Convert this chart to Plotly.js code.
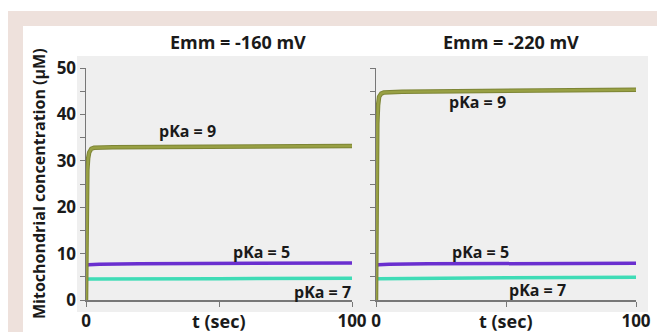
<!DOCTYPE html>
<html>
<head>
<meta charset="utf-8">
<script src="https://cdn.plot.ly/plotly-3.0.1.min.js"></script>
<style>html,body{margin:0;padding:0;background:#fff;}#chart{width:657px;height:332px;}</style>
</head>
<body>
<div id="chart"></div>
<script>
// ---- data ----
const panelTitles = ["Emm = -160 mV", "Emm = -220 mV"];
const yTickVals = [0, 5, 10, 15, 20, 25, 30, 35, 40, 45, 50];
const yTickText = ["0", "", "10", "", "20", "", "30", "", "40", "", "50"];
const xTickVals = [0, 50, 100];
const xTickText = ["0", "", "100"];

const tLeft9  = [0, 0.2, 0.5, 0.8, 1.2, 2, 3, 10, 30, 50, 70, 100];
const left9   = [0, 18, 28, 30.5, 31.8, 32.6, 32.8, 32.9, 33.0, 33.1, 33.2, 33.2];
const tLeft5  = [0, 0.1, 1, 5, 20, 50, 100];
const left5   = [0, 7.4, 7.6, 7.7, 7.8, 7.9, 8.0];
const tLeft7  = [0, 0.1, 1, 20, 50, 100];
const left7   = [0, 4.4, 4.5, 4.6, 4.6, 4.7];

const tRight9 = [0, 0.2, 0.5, 0.8, 1.2, 2, 3, 10, 30, 50, 70, 100];
const right9  = [0, 25, 38, 42, 43.8, 44.5, 44.7, 44.9, 45.0, 45.1, 45.2, 45.3];
const tRight5 = [0, 0.1, 1, 5, 20, 50, 100];
const right5  = [0, 7.5, 7.6, 7.7, 7.8, 7.9, 7.9];
const tRight7 = [0, 0.1, 1, 20, 50, 100];
const right7  = [0, 4.5, 4.6, 4.7, 4.8, 4.9];

const labelsLeft  = [{t: 38, v: 36.4, s: "pKa = 9"}, {t: 66, v: 10.3, s: "pKa = 5"}, {t: 89, v: 1.7, s: "pKa = 7"}];
const labelsRight = [{t: 39, v: 42.7, s: "pKa = 9"}, {t: 40, v: 10.3, s: "pKa = 5"}, {t: 62, v: 2.1, s: "pKa = 7"}];

// ---- styling ----
const W = 657, H = 332;
const px = x => x / W;
const py = y => 1 - y / H;
const C9 = "#98a044", C5 = "#6a2fcf", C7 = "#3fdcb6";
const FONT = "Open Sans";
const txt = "#1a1a1a";

function line(x, y, color, xa, ya, w) {
  return {x: x, y: y, type: "scatter", mode: "lines", xaxis: xa, yaxis: ya,
          line: {color: color, width: w}, hoverinfo: "skip", showlegend: false};
}

const data = [
  line(tLeft7, left7, C7, "x", "y", 3.5),
  line(tLeft5, left5, C5, "x", "y", 3.5),
  line(tLeft9, left9, "#7d8535", "x", "y", 4.5),
  line(tLeft9, left9, C9, "x", "y", 2.5),
  line(tRight7, right7, C7, "x2", "y2", 3.5),
  line(tRight5, right5, C5, "x2", "y2", 3.5),
  line(tRight9, right9, "#7d8535", "x2", "y2", 4.5),
  line(tRight9, right9, C9, "x2", "y2", 2.5)
];

const axX = {
  range: [0, 100], tickvals: xTickVals, ticktext: xTickText, ticks: "outside", ticklen: 5,
  tickcolor: "#777", showline: true, linecolor: "#777", linewidth: 1.5, showgrid: false, zeroline: false,
  tickfont: {family: FONT, size: 17, color: txt, weight: "bold"}, fixedrange: true
};
const axY = {
  range: [0, 50], tickvals: yTickVals, ticks: "outside", ticklen: 5,
  tickcolor: "#777", showline: true, linecolor: "#777", linewidth: 1.5, showgrid: false, zeroline: false,
  tickfont: {family: FONT, size: 17, color: txt, weight: "bold"}, fixedrange: true
};

const yDom = [py(300), py(68)];
const layout = {
  width: W, height: H,
  margin: {l: 0, r: 0, t: 0, b: 0},
  paper_bgcolor: "#ffffff", plot_bgcolor: "rgba(0,0,0,0)",
  showlegend: false,
  xaxis:  Object.assign({}, axX, {domain: [px(86), px(352)], anchor: "y"}),
  yaxis:  Object.assign({}, axY, {domain: yDom, anchor: "x", ticktext: yTickText}),
  xaxis2: Object.assign({}, axX, {domain: [px(376), px(636)], anchor: "y2"}),
  yaxis2: Object.assign({}, axY, {domain: yDom, anchor: "x2", ticktext: yTickVals.map(() => "")}),
  shapes: [
    {type: "rect", xref: "paper", yref: "paper", x0: px(8), x1: 1, y0: 0, y1: py(11),
     fillcolor: "#eee1dc", line: {width: 0}, layer: "below"},
    {type: "rect", xref: "paper", yref: "paper", x0: px(23), x1: 1, y0: 0, y1: py(26),
     fillcolor: "#ffffff", line: {width: 0}, layer: "below"},
    {type: "rect", xref: "paper", yref: "paper", x0: px(77), x1: px(648), y0: py(312), y1: py(56),
     fillcolor: "#efefef", line: {width: 0}, layer: "below"}
  ],
  annotations: []
};

// panel titles
[[238, panelTitles[0]], [511, panelTitles[1]]].forEach(([cx, s]) => {
  layout.annotations.push({xref: "paper", yref: "paper", x: px(cx), y: py(42), text: s, showarrow: false,
    xanchor: "center", yanchor: "middle", font: {family: FONT, size: 18, color: txt, weight: "bold"}});
});
// x axis titles
[["x", 50], ["x2", 50]].forEach(([xr, t]) => {
  layout.annotations.push({xref: xr, yref: "paper", x: t, y: py(321), text: "t (sec)", showarrow: false,
    xanchor: "center", yanchor: "middle", font: {family: FONT, size: 18, color: txt, weight: "bold"}});
});
// y axis title
layout.annotations.push({xref: "paper", yref: "paper", x: px(39), y: py(184), text: "Mitochondrial concentration (μM)",
  textangle: -90, showarrow: false, xanchor: "center", yanchor: "middle",
  font: {family: FONT, size: 16, color: txt, weight: "bold"}});
// curve labels
labelsLeft.forEach(l => layout.annotations.push({xref: "x", yref: "y", x: l.t, y: l.v, text: l.s, showarrow: false,
  font: {family: FONT, size: 16, color: txt, weight: "bold"}}));
labelsRight.forEach(l => layout.annotations.push({xref: "x2", yref: "y2", x: l.t, y: l.v, text: l.s, showarrow: false,
  font: {family: FONT, size: 16, color: txt, weight: "bold"}}));

Plotly.newPlot("chart", data, layout, {displayModeBar: false, staticPlot: true});
</script>
</body>
</html>
